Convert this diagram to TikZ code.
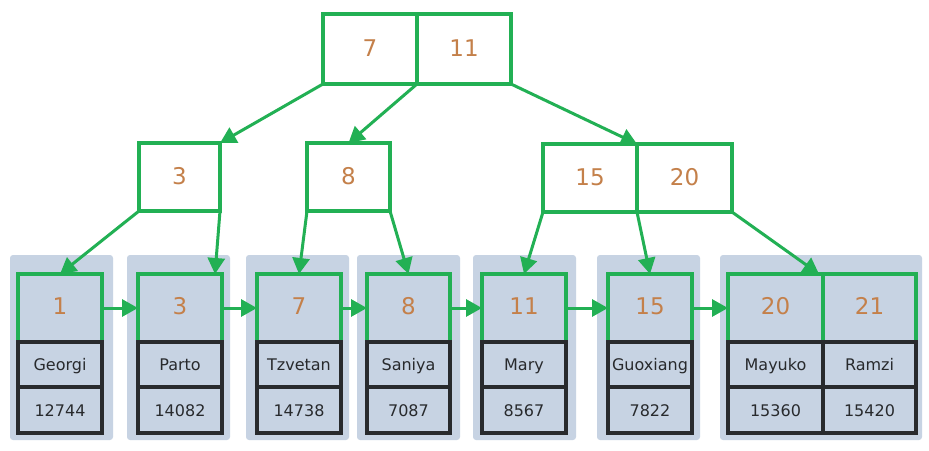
\documentclass[tikz,border=0pt]{standalone}
\usepackage{fontspec}
\setmainfont{DejaVu Sans}
\usetikzlibrary{arrows.meta}
\definecolor{gr}{RGB}{34,176,84}
\definecolor{keyc}{RGB}{196,128,74}
\definecolor{bgc}{RGB}{199,211,227}
\definecolor{dk}{RGB}{40,42,45}
\begin{document}
\begin{tikzpicture}[x=1pt,y=-1pt,
  treebox/.style={draw=gr,line width=4.2pt,minimum width=#1,minimum height=68pt,inner sep=0pt,outer sep=0pt,text=keyc,font=\fontsize{23}{23}\selectfont,text height=15pt,text depth=0pt,anchor=north west},
  leafkey/.style={draw=gr,line width=4.2pt,minimum width=#1,minimum height=68pt,inner sep=0pt,outer sep=0pt,text=keyc,font=\fontsize{23}{23}\selectfont,text height=12pt,text depth=0pt,anchor=north west},
  namecell/.style={draw=dk,line width=4pt,minimum width=#1,minimum height=45pt,inner sep=0pt,outer sep=0pt,text=dk,font=\fontsize{16}{16}\selectfont,text height=12pt,text depth=0pt,anchor=north west},
  bgbox/.style={fill=bgc,rounded corners=3pt,minimum width=#1,minimum height=185pt,inner sep=0pt,outer sep=0pt,anchor=north west},
  link/.style={draw=gr,line width=3pt,-{Triangle[length=16pt,width=17pt]}}
]
\useasboundingbox (0,0) rectangle (929,450);
\fill[white] (0,0) rectangle (929,450);

% backgrounds
\node[bgbox=103pt] (bg1) at (10,255) {};
\node[bgbox=103pt] (bg2) at (127,255) {};
\node[bgbox=103pt] (bg3) at (246,255) {};
\node[bgbox=103pt] (bg4) at (357,255) {};
\node[bgbox=103pt] (bg5) at (473,255) {};
\node[bgbox=103pt] (bg6) at (597,255) {};
\node[bgbox=202pt] (bg7) at (720,255) {};

% root
\node[treebox=94pt,minimum height=70pt] (r7) at (323,14) {7};
\node[treebox=94pt,minimum height=70pt] (r11) at (417,14) {11};

% level 2
\node[treebox=81pt] (n3) at (139,143) {3};
\node[treebox=83pt] (n8) at (307,143) {8};
\node[treebox=94pt] (n15) at (543,144) {15};
\node[treebox=95pt] (n20) at (637,144) {20};

% leaves: keys
\node[leafkey=84pt] (k1) at (18,274) {1};
\node[leafkey=84pt] (k3) at (138,274) {3};
\node[leafkey=84pt] (k7) at (257,274) {7};
\node[leafkey=83pt] (k8) at (367,274) {8};
\node[leafkey=84pt] (k11) at (482,274) {11};
\node[leafkey=84pt] (k15) at (608,274) {15};
\node[leafkey=95pt] (k20) at (728,274) {20};
\node[leafkey=93pt] (k21) at (823,274) {21};

% leaves: names
\node[namecell=84pt] (a1) at (18,342) {Georgi};
\node[namecell=84pt] (a3) at (138,342) {Parto};
\node[namecell=84pt] (a7) at (257,342) {Tzvetan};
\node[namecell=83pt] (a8) at (367,342) {Saniya};
\node[namecell=84pt] (a11) at (482,342) {Mary};
\node[namecell=84pt] (a15) at (608,342) {Guoxiang};
\node[namecell=95pt] (a20) at (728,342) {Mayuko};
\node[namecell=93pt] (a21) at (823,342) {Ramzi};

% leaves: numbers
\node[namecell=84pt,minimum height=46pt] (b1) at (18,387) {12744};
\node[namecell=84pt,minimum height=46pt] (b3) at (138,387) {14082};
\node[namecell=84pt,minimum height=46pt] (b7) at (257,387) {14738};
\node[namecell=83pt,minimum height=46pt] (b8) at (367,387) {7087};
\node[namecell=84pt,minimum height=46pt] (b11) at (482,387) {8567};
\node[namecell=84pt,minimum height=46pt] (b15) at (608,387) {7822};
\node[namecell=95pt,minimum height=46pt] (b20) at (728,387) {15360};
\node[namecell=93pt,minimum height=46pt] (b21) at (823,387) {15420};

% tree links
\draw[link] (r7.south west) -- (n3.north east);
\draw[link] (r7.south east) -- (n8.north);
\draw[link] (r11.south east) -- (n15.north east);
\draw[link] (n3.south west) -- (k1.north);
\draw[link] (n3.south east) -- ([xshift=-7pt]k3.north east);
\draw[link] (n8.south west) -- (k7.north);
\draw[link] (n8.south east) -- (k8.north);
\draw[link] (n15.south west) -- (k11.north);
\draw[link] (n15.south east) -- (k15.north);
\draw[link] (n20.south east) -- ([xshift=-4pt]k20.north east);

% leaf chain
\draw[link] (k1.east) -- (k3.west);
\draw[link] (k3.east) -- (k7.west);
\draw[link] (k7.east) -- (k8.west);
\draw[link] (k8.east) -- (k11.west);
\draw[link] (k11.east) -- (k15.west);
\draw[link] (k15.east) -- (k20.west);
\end{tikzpicture}
\end{document}
